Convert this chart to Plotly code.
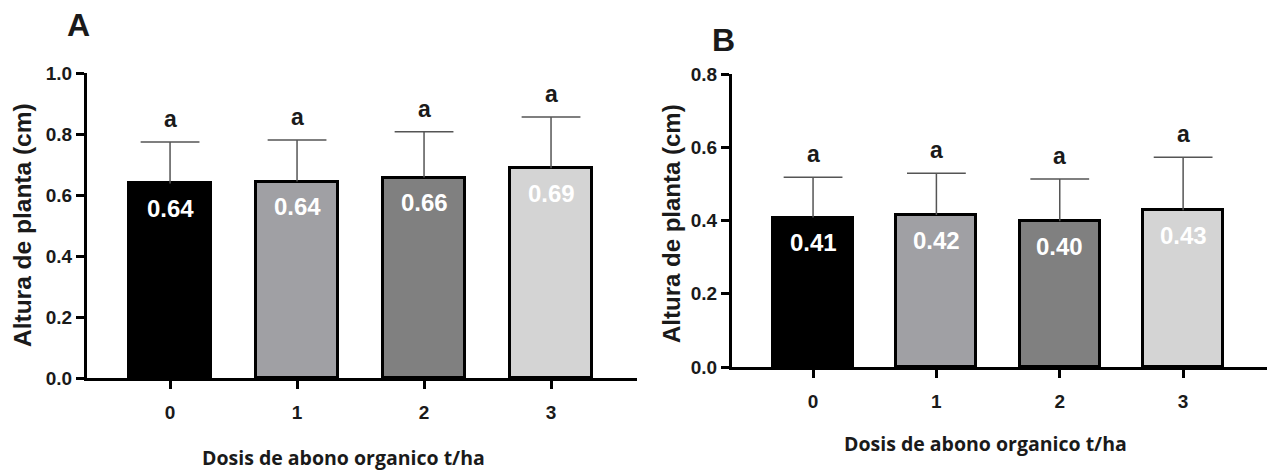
import plotly.graph_objects as go

categories = ["0", "1", "2", "3"]
x_pos = [0, 1, 2, 3]

means_a = [0.638, 0.644, 0.657, 0.688]
errs_a = [0.136, 0.136, 0.150, 0.168]
labels_a = ["0.64", "0.64", "0.66", "0.69"]
letters_a = ["a", "a", "a", "a"]

means_b = [0.408, 0.415, 0.398, 0.428]
errs_b = [0.110, 0.114, 0.115, 0.145]
labels_b = ["0.41", "0.42", "0.40", "0.43"]
letters_b = ["a", "a", "a", "a"]

bar_colors = ["#000000", "#a0a0a4", "#808080", "#d4d4d4"]
yticks_a = [0.0, 0.2, 0.4, 0.6, 0.8, 1.0]
yticks_b = [0.0, 0.2, 0.4, 0.6, 0.8]

W, H = 1269, 471
FONT = "Liberation Sans, Arial, sans-serif"
TITLE_FONT = "Open Sans, Arial, sans-serif"
ERR_COLOR = "#555555"

fig = go.Figure()

def add_panel(means, errs, xa, ya):
    fig.add_trace(go.Bar(
        x=x_pos, y=means, width=0.65,
        marker=dict(color=bar_colors, line=dict(color="black", width=3)),
        xaxis=xa, yaxis=ya, showlegend=False, hoverinfo="skip",
    ))
    tops = [m + e for m, e in zip(means, errs)]
    fig.add_trace(go.Scatter(
        x=x_pos, y=tops, mode="markers",
        marker=dict(symbol="line-ew-open", size=42, color=ERR_COLOR,
                    line=dict(color=ERR_COLOR, width=1.5)),
        error_y=dict(type="data", array=[0]*len(errs), arrayminus=errs, symmetric=False,
                     color=ERR_COLOR, thickness=1.5, width=0),
        xaxis=xa, yaxis=ya, showlegend=False, hoverinfo="skip",
    ))

add_panel(means_a, errs_a, "x", "y")
add_panel(means_b, errs_b, "x2", "y2")

annotations = []
def add_labels(means, errs, labels, letters, xref, yref):
    for xi, m, e, lab, let in zip(x_pos, means, errs, labels, letters):
        annotations.append(dict(x=xi, y=m, xref=xref, yref=yref, text=f"<b>{lab}</b>",
                                showarrow=False, yshift=-25,
                                font=dict(family=FONT, size=24, color="white")))
        annotations.append(dict(x=xi, y=m + e, xref=xref, yref=yref, text=f"<b>{let}</b>",
                                showarrow=False, yshift=23,
                                font=dict(family=FONT, size=23, color="#1a1a1a")))

add_labels(means_a, errs_a, labels_a, letters_a, "x", "y")
add_labels(means_b, errs_b, labels_b, letters_b, "x2", "y2")

def paper(px, py):
    return px / W, 1 - py / H

def add_text(text, px, py, size, family=FONT, angle=0):
    x, y = paper(px, py)
    annotations.append(dict(x=x, y=y, xref="paper", yref="paper", text=f"<b>{text}</b>",
                            showarrow=False, textangle=angle, xanchor="center", yanchor="middle",
                            font=dict(family=family, size=size, color="#1a1a1a")))

add_text("A", 78, 25, 32)
add_text("B", 723, 40, 32)
add_text("Altura de planta (cm)", 22, 225, 24.5, angle=-90)
add_text("Altura de planta (cm)", 671, 224, 24, angle=-90)
add_text("Dosis de abono organico t/ha", 343, 457, 19.5, family=TITLE_FONT)
add_text("Dosis de abono organico t/ha", 985, 443, 19.5, family=TITLE_FONT)

axis_common = dict(showline=True, linecolor="black", linewidth=3, ticks="outside",
                   ticklen=8, tickwidth=3, tickcolor="black", showgrid=False, zeroline=False,
                   tickfont=dict(family=FONT, size=19, color="#1a1a1a"), fixedrange=True,
                   automargin=False)

fig.update_layout(
    width=W, height=H, margin=dict(l=0, r=0, t=0, b=0, pad=0, autoexpand=False),
    paper_bgcolor="white", plot_bgcolor="white",
    bargap=0,
    xaxis=dict(domain=[87 / W, 637 / W], range=[-0.654, 3.677], tickvals=x_pos,
               ticktext=[f"<b>{c}</b>" for c in categories], anchor="y",
               ticklabelstandoff=7, **axis_common),
    yaxis=dict(domain=[1 - 378 / H, 1 - 73 / H], range=[0, 1.0], tickvals=yticks_a,
               ticktext=[f"<b>{v:.1f}</b>" for v in yticks_a], anchor="x", **axis_common),
    xaxis2=dict(domain=[732 / W, 1267 / W], range=[-0.657, 3.68], tickvals=x_pos,
                ticktext=[f"<b>{c}</b>" for c in categories], anchor="y2",
                ticklabelstandoff=7, **axis_common),
    yaxis2=dict(domain=[1 - 367 / H, 1 - 74 / H], range=[0, 0.8], tickvals=yticks_b,
                ticktext=[f"<b>{v:.1f}</b>" for v in yticks_b], anchor="x2", **axis_common),
    annotations=annotations,
)

fig.write_html("out.html")
